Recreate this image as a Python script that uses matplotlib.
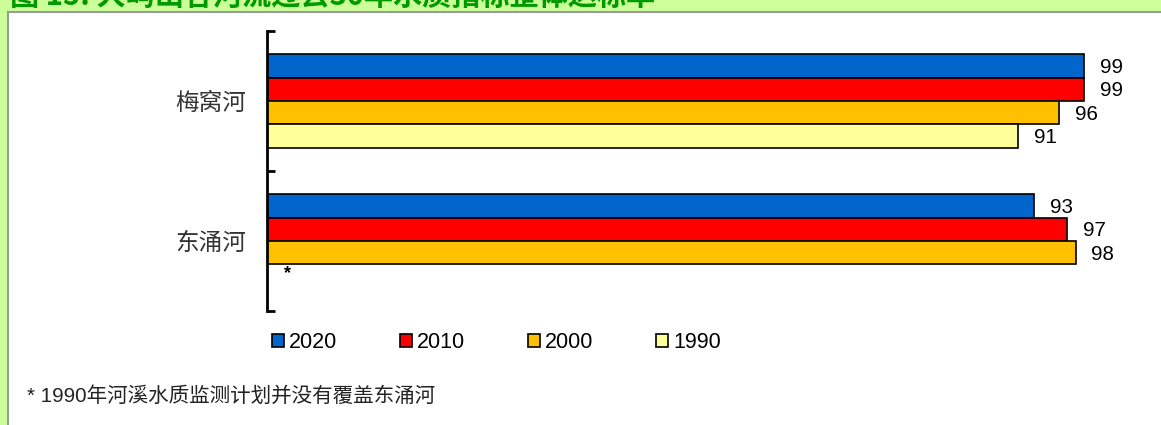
import matplotlib
matplotlib.use("Agg")
import matplotlib.pyplot as plt
from matplotlib.patches import Rectangle
import numpy as np

plt.rcParams['font.family'] = ['Liberation Sans', 'Noto Sans CJK SC', 'DejaVu Sans']

# ---- data ----
rivers = ['梅窝河', '东涌河']
years = ['2020', '2010', '2000', '1990']
values_2020 = [99, 93]
values_2010 = [99, 97]
values_2000 = [96, 98]
values_1990 = [91, None]
series = [values_2020, values_2010, values_2000, values_1990]
colors = ['#0066CC', '#FF0000', '#FFC000', '#FFFF99']
title = '图 15: 大屿山各河流过去30年水质指标整体达标率'
footnote = '* 1990年河溪水质监测计划并没有覆盖东涌河'

W, H = 1161, 425
fig = plt.figure(figsize=(W / 100, H / 100), dpi=100, facecolor='#CCFF99')

# white panel
fig.patches.append(Rectangle((8 / W, -0.01), 1.0, 1 - 12 / H + 0.01, transform=fig.transFigure,
                             facecolor='white', edgecolor='#9A9A9A', linewidth=1.5, zorder=-10))

fig.text(10 / W, 1 - 5 / H, title, color='#009900', fontsize=21, fontweight='bold',
         ha='left', va='baseline', family=['Noto Sans CJK SC'])

ax = fig.add_axes([267 / W, 114 / H, 825 / W, 280 / H])
ax.set_facecolor('none')
ax.set_zorder(5)

bh = 1 / 6
containers = []
for i, (yr, vals, c) in enumerate(zip(years, series, colors)):
    ys, xs = [], []
    for j, v in enumerate(vals):
        if v is None:
            continue
        ys.append(j + 0.5 - 2 * bh + (i + 0.5) * bh)
        xs.append(v)
    bc = ax.barh(ys, xs, height=bh, color=c, edgecolor='black', linewidth=1.2, label=yr, zorder=2)
    containers.append(bc)
    for y, x in zip(ys, xs):
        ax.annotate(f'{x}', xy=(x, y), xytext=(11.5, -1), textcoords='offset points',
                    ha='left', va='center', fontsize=14.8, color='black')

ax.text(2.5, 1.5 - 2 * bh + 3.5 * bh - 0.02, '*', fontsize=13, fontweight='bold', ha='center', va='center')

ax.set_xlim(0, 100)
ax.set_ylim(2, 0)
ax.set_yticks([0, 1, 2])
ax.set_yticklabels([])
ax.tick_params(axis='y', which='major', direction='in', length=6, width=2, color='black')
ax.set_yticks([0.5, 1.5], minor=True)
ax.set_yticklabels(rivers, minor=True, fontsize=17, color='#333333', family=['Noto Sans CJK SC'])
ax.tick_params(axis='y', which='minor', length=0, pad=15)
ax.set_xticks([])
for s in ['top', 'right', 'bottom']:
    ax.spines[s].set_visible(False)
ax.spines['left'].set_linewidth(2)

fig.legend(handles=containers, labels=years, loc='center left',
           bbox_to_anchor=(272 / W, 1 - 343 / H), ncol=4, frameon=False,
           fontsize=15.5, handlelength=0.55, handleheight=0.55, handletextpad=0.25,
           columnspacing=2.9, borderpad=0, borderaxespad=0)

fig.text(27 / W, 1 - 396 / H, footnote, fontsize=14.8, color='#222222', ha='left', va='center')

fig.savefig('out.png', dpi=100, facecolor=fig.get_facecolor())
